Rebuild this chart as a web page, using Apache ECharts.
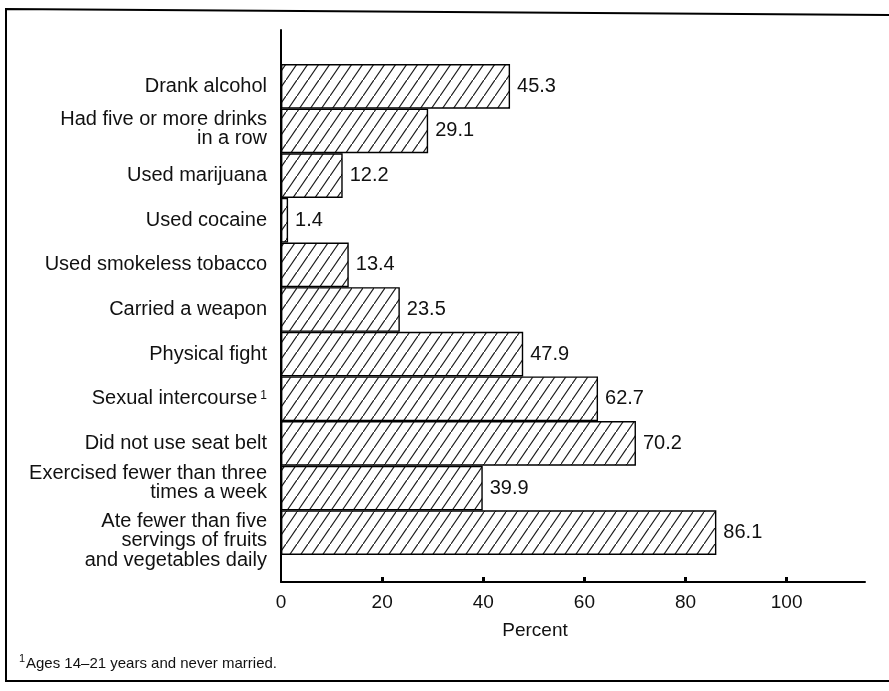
<!DOCTYPE html>
<html>
<head>
<meta charset="utf-8">
<script src="https://cdn.jsdelivr.net/npm/echarts@6/dist/echarts.min.js"></script>
<style>
html,body{margin:0;padding:0;background:#fff;}
#c{width:889px;height:691px;}
</style>
</head>
<body>
<div id="c"></div>
<script>
// ---- data ----
var categories = [
  'Drank alcohol',
  'Had five or more drinks\nin a row',
  'Used marijuana',
  'Used cocaine',
  'Used smokeless tobacco',
  'Carried a weapon',
  'Physical fight',
  'Sexual intercourse',
  'Did not use seat belt',
  'Exercised fewer than three\ntimes a week',
  'Ate fewer than five\nservings of fruits\nand vegetables daily'
];
var footnoteMarks = ['', '', '', '', '', '', '', '1', '', '', ''];
var values = [45.3, 29.1, 12.2, 1.4, 13.4, 23.5, 47.9, 62.7, 70.2, 39.9, 86.1];
var xTickLabels = [0, 20, 40, 60, 80, 100];
var xTickMarks = [20, 40, 60, 80, 100];
var xAxisTitle = 'Percent';
var footnote = 'Ages 14\u201321 years and never married.';

// ---- style: small vertical nudges of some category labels (px, + = down) ----
var labelNudge = {1: -2, 9: -5, 10: 8};

// ---- hatch pattern ----
var PW = 11, PH = 16;
var pc = document.createElement('canvas');
pc.width = PW; pc.height = PH;
var ctx = pc.getContext('2d');
ctx.fillStyle = '#fff';
ctx.fillRect(0, 0, PW, PH);
ctx.strokeStyle = '#1a1a1a';
ctx.lineWidth = 1.2;
ctx.beginPath();
ctx.moveTo(-1, PH + PH / PW);
ctx.lineTo(PW + 1, -PH / PW);
ctx.stroke();

var FONT = '"Liberation Sans", Arial, Helvetica, sans-serif';
var chart = echarts.init(document.getElementById('c'));

var richStyles = {sup: {fontSize: 12, fontFamily: FONT, color: '#111', padding: [0, 0, 7, 3]}};
for (var k in labelNudge) {
  var n = Math.abs(labelNudge[k]);
  richStyles['g' + k] = {fontSize: 2, lineHeight: 2 * n, height: 2 * n};
}

var XMAX = 115.5;
chart.setOption({
  backgroundColor: '#fff',
  animation: false,
  grid: [
    {left: 281, top: 64, width: 584, height: 491},
    {left: 281, top: 30, width: 584, height: 552}
  ],
  xAxis: [
    {gridIndex: 0, type: 'value', min: 0, max: XMAX, show: false},
    {
      gridIndex: 1, type: 'value', min: 0, max: XMAX,
      axisLine: {show: true, lineStyle: {color: '#000', width: 2}},
      axisTick: {show: true, inside: true, length: 5, lineStyle: {color: '#000', width: 3}, customValues: xTickMarks},
      axisLabel: {show: true, margin: 11, fontSize: 19, color: '#111', fontFamily: FONT, customValues: xTickLabels},
      splitLine: {show: false}
    }
  ],
  yAxis: [
    {
      gridIndex: 0, type: 'category', inverse: true, data: categories,
      axisLine: {show: false}, axisTick: {show: false},
      axisLabel: {
        interval: 0, hideOverlap: false,
        margin: 14, fontSize: 20, lineHeight: 19.5, color: '#111', fontFamily: FONT,
        formatter: function (v, i) {
          var s = footnoteMarks[i] ? v + '{sup|' + footnoteMarks[i] + '}' : v;
          var nd = labelNudge[i];
          if (nd > 0) s = '{g' + i + '| }\n' + s;
          else if (nd < 0) s = s + '\n{g' + i + '| }';
          return s;
        },
        rich: richStyles
      }
    },
    {
      gridIndex: 1, type: 'value', min: 0, max: 1,
      axisLine: {show: true, onZero: false, lineStyle: {color: '#000', width: 2}},
      axisTick: {show: false}, axisLabel: {show: false}, splitLine: {show: false}
    }
  ],
  series: [{
    type: 'bar',
    xAxisIndex: 0, yAxisIndex: 0,
    data: values,
    barCategoryGap: '0%',
    itemStyle: {color: {image: pc, repeat: 'repeat'}, borderColor: '#000', borderWidth: 1.4},
    label: {show: true, position: 'right', distance: 7, fontSize: 20, color: '#111', fontFamily: FONT,
      formatter: function (p) { return p.value.toFixed(1); }}
  }],
  graphic: [
    {type: 'polyline', shape: {points: [[905, 15], [6, 9], [6, 681], [905, 681]]},
      style: {stroke: '#000', lineWidth: 2, fill: null}, silent: true},
    {type: 'text', x: 535, y: 631, style: {text: xAxisTitle, fontSize: 19, fill: '#111', fontFamily: FONT,
      textAlign: 'center', textVerticalAlign: 'middle'}},
    {type: 'text', x: 19, y: 653, style: {text: '1', fontSize: 11, fill: '#111', fontFamily: FONT}},
    {type: 'text', x: 26, y: 656, style: {text: footnote, fontSize: 15, fill: '#111', fontFamily: FONT}}
  ]
});
</script>
</body>
</html>
